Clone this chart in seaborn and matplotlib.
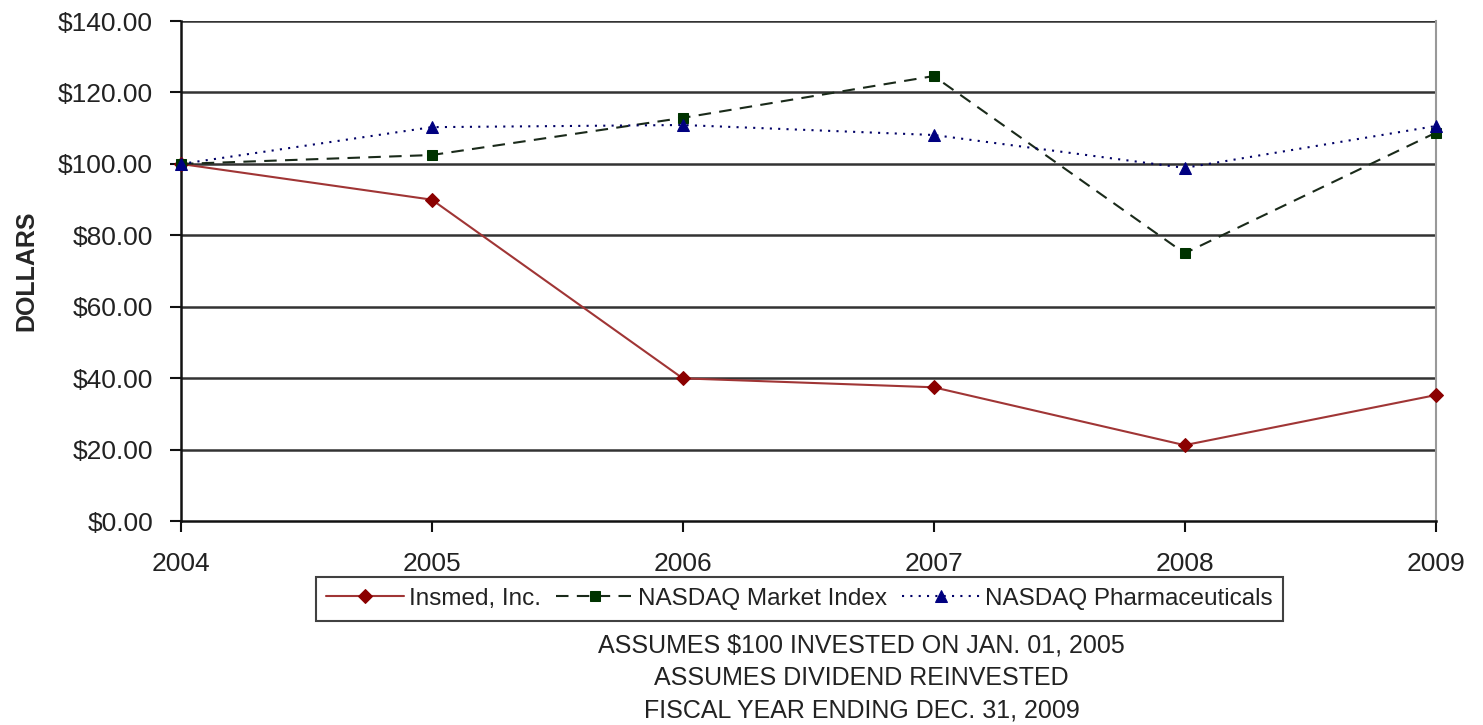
import matplotlib
matplotlib.use("Agg")
import matplotlib.pyplot as plt
import seaborn as sns
import pandas as pd

years = [2004, 2005, 2006, 2007, 2008, 2009]
insmed = [100.0, 90.0, 40.0, 37.5, 21.3, 35.3]
nasdaq_market = [100.0, 102.5, 112.9, 124.6, 75.0, 108.7]
nasdaq_pharma = [100.0, 110.3, 110.9, 108.1, 98.9, 110.6]
yticks = [0, 20, 40, 60, 80, 100, 120, 140]
notes = ["ASSUMES $100 INVESTED ON JAN. 01, 2005",
         "ASSUMES DIVIDEND REINVESTED",
         "FISCAL YEAR ENDING DEC. 31, 2009"]

sns.set_style("white")
plt.rcParams['font.family'] = ['Liberation Sans', 'DejaVu Sans']

fig = plt.figure(figsize=(14.83, 7.25), dpi=100)
ax = fig.add_axes([0.122, 0.281, 0.846, 0.690])

df = pd.DataFrame({"year": years, "Insmed": insmed,
                   "Market": nasdaq_market, "Pharma": nasdaq_pharma})

for y in yticks[1:]:
    ax.axhline(y, color="#333333", lw=1.8, zorder=1)

sns.lineplot(data=df, x="year", y="Insmed", ax=ax, color="#A03535", lw=1.5,
             marker="D", markersize=7, markerfacecolor="#8B0000",
             markeredgecolor="#8B0000", label="Insmed, Inc.", clip_on=False, zorder=3)
sns.lineplot(data=df, x="year", y="Market", ax=ax, color="#1a2a1a", lw=1.5,
             linestyle=(0, (6, 4)), marker="s", markersize=7,
             markerfacecolor="#003300", markeredgecolor="#003300",
             label="NASDAQ Market Index", clip_on=False, zorder=3)
sns.lineplot(data=df, x="year", y="Pharma", ax=ax, color="#000066", lw=1.5,
             linestyle=(0, (1, 3)), marker="^", markersize=8,
             markerfacecolor="#000080", markeredgecolor="#000080",
             label="NASDAQ Pharmaceuticals", clip_on=False, zorder=3)

ax.set_xlim(2004, 2009)
ax.set_ylim(0, 140)
ax.set_xticks(years)
ax.set_xticklabels([str(y) for y in years])
ax.set_yticks(yticks)
ax.set_yticklabels([f"${v:.2f}" for v in yticks])
ax.tick_params(axis="both", labelsize=19, colors="#111111", direction="out",
               length=8, width=1.5, left=True, bottom=True)
ax.tick_params(axis="y", pad=12, labelcolor="#222222")
ax.tick_params(axis="x", pad=14, labelcolor="#222222")
ax.set_xlabel("")
ax.set_ylabel("DOLLARS", fontsize=18, fontweight="bold", labelpad=14)

ax.spines["top"].set_visible(False)
ax.spines["left"].set_color("#111111")
ax.spines["left"].set_linewidth(1.8)
ax.spines["bottom"].set_color("#111111")
ax.spines["bottom"].set_linewidth(1.8)
ax.spines["right"].set_color("#999999")
ax.spines["right"].set_linewidth(1.5)

ax.get_legend().remove()
handles, labels = ax.get_legend_handles_labels()
leg = fig.legend(handles, labels, loc="center", bbox_to_anchor=(0.539, 0.174),
                 ncol=3, fontsize=17.5, frameon=True, fancybox=False,
                 edgecolor="#111111", handlelength=3.2, handletextpad=0.2,
                 columnspacing=0.6, borderpad=0.45)
leg.get_frame().set_linewidth(1.5)
for t in leg.get_texts():
    t.set_color("#222222")

for i, t in enumerate(notes):
    fig.text(0.581, 0.110 - i * 0.045, t, ha="center", va="center",
             fontsize=18, color="#222222")

fig.savefig("out.png", dpi=100)
